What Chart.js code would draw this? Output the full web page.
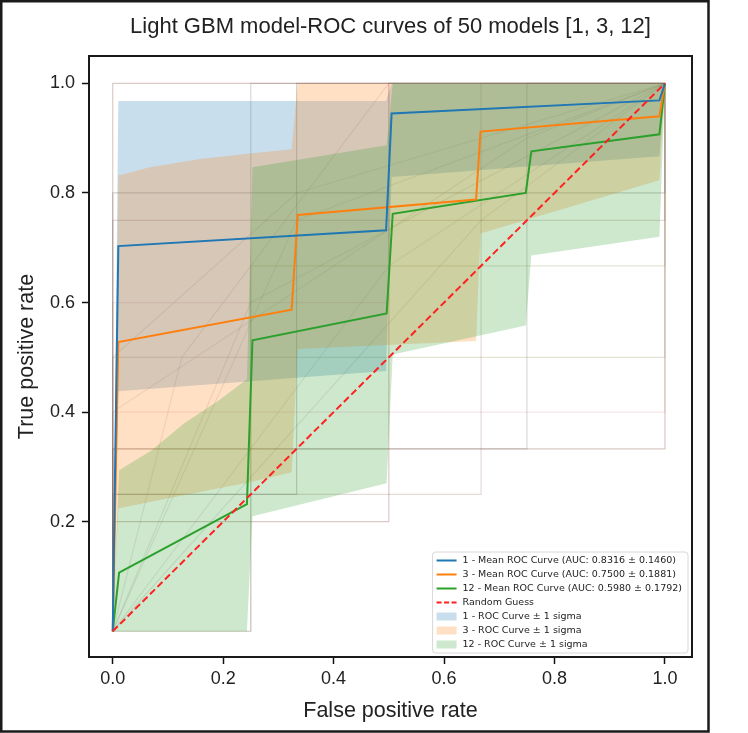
<!DOCTYPE html>
<html lang="en">
<head>
<meta charset="UTF-8">
<title>Light GBM ROC curves</title>
<script src="https://cdn.jsdelivr.net/npm/chart.js"></script>
<style>
    html, body { margin: 0; padding: 0; background: #fff; }
    #wrap { width: 748px; height: 733px; }
</style>
</head>
<body>
<div id="wrap"><canvas id="roc" width="748" height="733"></canvas></div>
<script>
    // ---- data ----
    const chartTitle = 'Light GBM model-ROC curves of 50 models [1, 3, 12]';
    const xTicks = [0, 0.2, 0.4, 0.6, 0.8, 1.0];
    const yTicks = [0.2, 0.4, 0.6, 0.8, 1.0];

    const legendLabels = [
        '1 - Mean ROC Curve (AUC: 0.8316 ± 0.1460)',
        '3 - Mean ROC Curve (AUC: 0.7500 ± 0.1881)',
        '12 - Mean ROC Curve (AUC: 0.5980 ± 0.1792)',
        'Random Guess',
        '1 - ROC Curve ± 1 sigma',
        '3 - ROC Curve ± 1 sigma',
        '12 - ROC Curve ± 1 sigma'
    ];

    // mean curves (corner points)
    const fpr1 = [0, 0.0101, 0.495, 0.505, 0.99, 1];
    const tpr1 = [0, 0.703, 0.732, 0.945, 0.969, 1];
    const fpr3 = [0, 0.0101, 0.324, 0.335, 0.658, 0.666, 0.99, 1];
    const tpr3 = [0, 0.528, 0.587, 0.760, 0.788, 0.912, 0.940, 1];
    const fpr12 = [0, 0.0115, 0.243, 0.253, 0.496, 0.507, 0.748, 0.758, 0.99, 1];
    const tpr12 = [0, 0.107, 0.232, 0.531, 0.580, 0.762, 0.800, 0.876, 0.907, 1];

    // +/- 1 sigma bands
    const bandX1 = [0, 0.0101, 0.495, 0.505, 0.99, 1];
    const upper1 = [0, 0.968, 0.968, 1, 1, 1];
    const lower1 = [0, 0.438, 0.475, 0.829, 0.867, 1];
    const bandX3 = [0, 0.0101, 0.067, 0.158, 0.248, 0.324, 0.335, 0.658, 0.666, 0.99, 1];
    const upper3 = [0, 0.832, 0.847, 0.862, 0.872, 0.880, 1, 1, 1, 1, 1];
    const lower3 = [0, 0.224, 0.236, 0.254, 0.272, 0.290, 0.515, 0.530, 0.726, 0.823, 1];
    const bandX12 = [0, 0.0115, 0.07, 0.13, 0.19, 0.243, 0.253, 0.496, 0.507, 0.748, 0.758, 0.99, 1];
    const upper12 = [0, 0.294, 0.33, 0.38, 0.42, 0.46, 0.847, 0.887, 1, 1, 1, 1, 1];
    const lower12 = [0, 0, 0, 0, 0, 0, 0.21, 0.27, 0.505, 0.558, 0.686, 0.72, 1];

    const diagX = [0, 1];
    const diagY = [0, 1];

    // single model ROC curves (faint lines), [fpr, tpr] pairs
    const modelCurves = [
        [[0, 0], [0, 1], [1, 1]],
        [[0, 0], [0, 0.8], [1, 0.8], [1, 1]],
        [[0, 0], [0, 0.75], [1, 0.75], [1, 1]],
        [[0, 0], [0.25, 0], [0.25, 1], [1, 1]],
        [[0, 0], [0, 0.6], [0.5, 0.6], [0.5, 1], [1, 1]],
        [[0, 0], [0, 0.5], [1, 0.5], [1, 1]],
        [[0, 0], [0, 0.333], [1, 0.333], [1, 1]],
        [[0, 0], [0, 0.25], [0.333, 0.25], [0.333, 1], [1, 1]],
        [[0, 0], [0, 0.25], [0.667, 0.25], [0.667, 1], [1, 1]],
        [[0, 0], [0, 0.333], [0.75, 0.333], [0.75, 1], [1, 1]],
        [[0, 0], [0, 0.4], [1, 0.4], [1, 1]],
        [[0, 0], [0.25, 0], [0.25, 0.667], [1, 0.667], [1, 1]],
        [[0, 0], [0, 0.2], [0.5, 0.2], [0.5, 1], [1, 1]]
    ];
    const slantCurves = [
        [[0, 0], [0.333, 0.75], [1, 1]],
        [[0, 0], [0, 0.5], [0.333, 0.8], [1, 1]],
        [[0, 0], [0.25, 0.6], [1, 1]],
        [[0, 0], [0.5, 0.667], [1, 1]],
        [[0, 0], [0, 0.4], [0.75, 0.9], [1, 1]],
        [[0, 0], [0.667, 0.75], [1, 1]],
        [[0, 0], [0.125, 0.5], [0.5, 1], [1, 1]]
    ];

    // ---- styles ----
    const blue = '#1f77b4', orange = '#ff7f0e', green = '#2ca02c';
    const blueBand = 'rgba(31,119,180,0.24)', orangeBand = 'rgba(255,127,14,0.24)', greenBand = 'rgba(44,160,44,0.24)';
    const modelColors = ['rgba(140,86,75,0.32)', 'rgba(110,110,110,0.32)', 'rgba(140,86,75,0.22)',
        'rgba(110,110,110,0.26)', 'rgba(214,120,150,0.2)', 'rgba(150,150,90,0.26)'];
    const slantColor = 'rgba(120,100,90,0.14)';

    function pts(xs, ys) {
        return xs.map(function (x, i) { return { x: x, y: ys[i] }; });
    }

    function meanLine(xs, ys, color) {
        return { data: pts(xs, ys), borderColor: color, borderWidth: 2, pointRadius: 0, fill: false };
    }

    function bandPair(xs, up, low, color) {
        return [
            { data: pts(xs, up), borderColor: 'rgba(0,0,0,0)', borderWidth: 0, pointRadius: 0, fill: '+1', backgroundColor: color },
            { data: pts(xs, low), borderColor: 'rgba(0,0,0,0)', borderWidth: 0, pointRadius: 0, fill: false }
        ];
    }

    function faint(curve, color) {
        return {
            data: curve.map(function (p) { return { x: p[0], y: p[1] }; }),
            borderColor: color, borderWidth: 1.2, pointRadius: 0, fill: false
        };
    }

    // first dataset ends up on top
    var datasets = [
        { data: pts(diagX, diagY), borderColor: '#ff2020', borderWidth: 2, borderDash: [7, 3.5], pointRadius: 0, fill: false },
        meanLine(fpr1, tpr1, blue),
        meanLine(fpr3, tpr3, orange),
        meanLine(fpr12, tpr12, green)
    ];
    datasets = datasets.concat(bandPair(bandX12, upper12, lower12, greenBand));
    datasets = datasets.concat(bandPair(bandX3, upper3, lower3, orangeBand));
    datasets = datasets.concat(bandPair(bandX1, upper1, lower1, blueBand));
    modelCurves.forEach(function (c, i) { datasets.push(faint(c, modelColors[i % modelColors.length])); });
    slantCurves.forEach(function (c) { datasets.push(faint(c, slantColor)); });

    const legendItems = [
        { color: blue, kind: 'line' },
        { color: orange, kind: 'line' },
        { color: green, kind: 'line' },
        { color: '#ff2020', kind: 'dash' },
        { color: blueBand, kind: 'patch' },
        { color: orangeBand, kind: 'patch' },
        { color: greenBand, kind: 'patch' }
    ];

    // frame, outer border, title and legend
    const decor = {
        id: 'decor',
        afterDraw(chart) {
            const ctx = chart.ctx;
            const a = chart.chartArea;
            ctx.save();
            ctx.strokeStyle = '#1a1a1a';
            ctx.lineWidth = 2;
            ctx.strokeRect(a.left, a.top, a.right - a.left, a.bottom - a.top);
            ctx.lineWidth = 2.5;
            ctx.strokeRect(1.25, 1.25, 707.25, 730.25);

            ctx.fillStyle = '#222';
            ctx.font = '22px "Liberation Sans", Arial, sans-serif';
            ctx.textAlign = 'center';
            ctx.textBaseline = 'middle';
            ctx.fillText(chartTitle, (a.left + a.right) / 2, 27);

            // legend (lower right)
            ctx.font = '9.5px "DejaVu Sans", sans-serif';
            var maxW = 0;
            legendLabels.forEach(function (t) { maxW = Math.max(maxW, ctx.measureText(t).width); });
            var w = 30 + maxW + 6, rowH = 14, h = rowH * 6 + 17;
            var right = a.right - 4, bottom = a.bottom - 4;
            var left = right - w, top = bottom - h;
            ctx.beginPath();
            ctx.roundRect(left, top, w, h, 3);
            ctx.fillStyle = 'rgba(255,255,255,0.8)';
            ctx.fill();
            ctx.strokeStyle = '#d8d8d8';
            ctx.lineWidth = 1;
            ctx.stroke();
            ctx.textAlign = 'left';
            legendItems.forEach(function (it, i) {
                var cy = top + 8.5 + i * rowH;
                if (it.kind === 'patch') {
                    ctx.fillStyle = it.color;
                    ctx.fillRect(left + 4, cy - 4, 20, 8);
                } else {
                    ctx.beginPath();
                    ctx.strokeStyle = it.color;
                    ctx.lineWidth = 2;
                    ctx.setLineDash(it.kind === 'dash' ? [5, 2.5] : []);
                    ctx.moveTo(left + 4, cy);
                    ctx.lineTo(left + 24, cy);
                    ctx.stroke();
                    ctx.setLineDash([]);
                }
                ctx.fillStyle = '#222';
                ctx.fillText(legendLabels[i], left + 30, cy + 0.5);
            });
            ctx.restore();
        }
    };

    Chart.defaults.font.family = '"Liberation Sans", Arial, sans-serif';
    Chart.defaults.color = '#222';

    new Chart(document.getElementById('roc'), {
        type: 'line',
        data: { datasets: datasets },
        options: {
            responsive: false,
            animation: false,
            events: [],
            layout: { padding: { top: 56, right: 56, left: 0, bottom: 0 } },
            scales: {
                x: {
                    type: 'linear',
                    min: -0.043,
                    max: 1.049,
                    afterBuildTicks: function (s) { s.ticks = xTicks.map(function (v) { return { value: v }; }); },
                    afterFit: function (s) { s.height = 76; },
                    ticks: {
                        callback: function (v) { return Number(v).toFixed(1); },
                        color: '#222', font: { size: 18 }, padding: 4, maxRotation: 0, autoSkip: false
                    },
                    grid: { drawOnChartArea: false, drawTicks: true, tickLength: 7, tickColor: '#111', tickWidth: 1.5 },
                    border: { display: false },
                    title: { display: true, text: 'False positive rate', color: '#222', font: { size: 21.5 }, padding: { top: 0, bottom: 9 } }
                },
                y: {
                    type: 'linear',
                    min: -0.047,
                    max: 1.05,
                    afterBuildTicks: function (s) { s.ticks = yTicks.map(function (v) { return { value: v }; }); },
                    afterFit: function (s) { s.width = 89; },
                    ticks: {
                        callback: function (v) { return Number(v).toFixed(1); },
                        color: '#222', font: { size: 18 }, padding: 7, autoSkip: false
                    },
                    grid: { drawOnChartArea: false, drawTicks: true, tickLength: 7, tickColor: '#111', tickWidth: 1.5 },
                    border: { display: false },
                    title: { display: true, text: 'True positive rate', color: '#222', font: { size: 21.5 }, padding: { top: 14, bottom: 0 } }
                }
            },
            plugins: {
                legend: { display: false },
                tooltip: { enabled: false },
                title: { display: false }
            }
        },
        plugins: [decor]
    });
</script>
</body>
</html>
